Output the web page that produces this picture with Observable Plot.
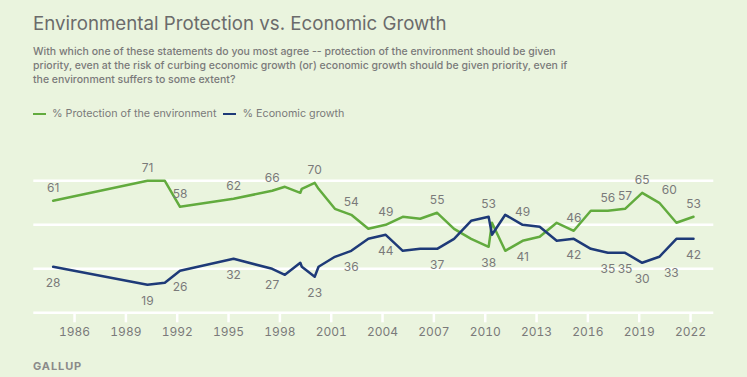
<!DOCTYPE html>
<html>
<head>
<meta charset="utf-8">
<script src="https://cdn.jsdelivr.net/npm/d3@7"></script>
<script src="https://cdn.jsdelivr.net/npm/@observablehq/plot@0.6"></script>
<style>
  html, body { margin: 0; padding: 0; }
  body { width: 747px; height: 377px; overflow: hidden; position: relative; background: #eaf4de; font-family: Inter, Roboto, "Noto Sans", sans-serif; }
  #title { position: absolute; left: 33px; top: 15px; font-size: 18.7px; line-height: 18.7px; color: #6b6b6b; font-weight: 400; white-space: nowrap; }
  #subtitle { position: absolute; left: 33px; top: 44.8px; font-size: 10.5px; line-height: 14.2px; color: #7a7a7a; font-weight: 500; white-space: nowrap; }
  #legend { position: absolute; left: 33px; top: 107px; font-size: 10.75px; line-height: 14px; color: #7a7a7a; display: flex; align-items: center; white-space: nowrap; }
  .sw { display: inline-block; width: 13px; height: 2.5px; margin-right: 6px; }
  .item { display: flex; align-items: center; margin-right: 7px; }
  #chart { position: absolute; left: 0; top: 130px; }
  #source { position: absolute; left: 33px; top: 359px; font-size: 11px; line-height: 14px; font-weight: 700; letter-spacing: 0.9px; color: #8a8a8a; }
</style>
</head>
<body>
<div id="title"></div>
<div id="subtitle"></div>
<div id="legend"></div>
<div id="chart"></div>
<div id="source"></div>
<script>
const titleText = "Environmental Protection vs. Economic Growth";
const subtitleLines = [
  "With which one of these statements do you most agree -- protection of the environment should be given",
  "priority, even at the risk of curbing economic growth (or) economic growth should be given priority, even if",
  "the environment suffers to some extent?"
];
const sourceText = "GALLUP";
const seriesNames = ["% Protection of the environment", "% Economic growth"];

const pollDates = ["1984-10-01","1990-04-06","1991-04-12","1992-03-01","1995-04-18","1997-07-20","1998-04-18","1999-03-13","1999-04-14","2000-01-14","2000-04-05","2001-03-20","2002-03-05","2003-03-04","2004-03-09","2005-03-08","2006-03-14","2007-03-12","2008-03-07","2009-03-06","2010-03-15","2010-05-25","2011-03-04","2012-03-09","2013-03-08","2014-03-07","2015-03-06","2016-03-04","2017-03-03","2018-03-05","2019-03-05","2020-03-05","2021-03-05","2022-03-05"];
const environmentValues = [61,71,71,58,62,66,68,65,67,70,67,57,54,47,49,53,52,55,47,42,38,50,36,41,43,50,46,56,56,57,65,60,50,53];
const economyValues = [28,19,20,26,32,27,24,30,28,23,28,33,36,42,44,36,37,37,42,51,53,44,54,49,48,41,42,37,35,35,30,33,42,42];

const labeledDates = ["1984-10-01","1990-04-06","1992-03-01","1995-04-18","1997-07-20","2000-01-14","2002-03-05","2004-03-09","2007-03-12","2010-03-15","2012-03-09","2015-03-06","2017-03-03","2018-03-05","2019-03-05","2020-03-05","2022-03-05"];
const shiftedLabelDates = ["2020-03-05"];

const tickYears = [1986,1989,1992,1995,1998,2001,2004,2007,2010,2013,2016,2019,2022];
const gridValues = [5, 27, 49, 71];

const green = "#62ab3e";
const blue = "#1e3a78";
const textGray = "#7a7a7a";

document.getElementById("title").textContent = titleText;
const sub = document.getElementById("subtitle");
subtitleLines.forEach(line => {
  const div = document.createElement("div");
  div.textContent = line;
  sub.appendChild(div);
});
document.getElementById("source").textContent = sourceText;
const legend = document.getElementById("legend");
[[seriesNames[0], green], [seriesNames[1], blue]].forEach(([name, color]) => {
  const it = document.createElement("span");
  it.className = "item";
  const sw = document.createElement("span");
  sw.className = "sw";
  sw.style.background = color;
  const tx = document.createElement("span");
  tx.textContent = name;
  it.appendChild(sw); it.appendChild(tx);
  legend.appendChild(it);
});

const rows = pollDates.map((d, i) => ({date: new Date(d + "T00:00:00"), key: d, env: environmentValues[i], econ: economyValues[i]}));

const labelRows = [];
rows.forEach(r => {
  if (!labeledDates.includes(r.key)) return;
  const shifted = shiftedLabelDates.includes(r.key);
  const envAbove = r.env >= r.econ;
  labelRows.push({date: r.date, value: r.env, above: envAbove, shifted});
  labelRows.push({date: r.date, value: r.econ, above: !envAbove, shifted});
});

const tickDates = tickYears.map(y => new Date(y, 0, 1));

const labelFont = {fontSize: 12, fill: textGray, text: d => String(d.value)};

const plot = Plot.plot({
  width: 747,
  height: 210,
  marginLeft: 33.3,
  marginRight: 33.7,
  marginTop: 50.3,
  marginBottom: 27.7,
  style: {background: "transparent", fontFamily: "Inter, Roboto, sans-serif", fontSize: "12px", color: textGray},
  x: {type: "time", domain: [new Date("1983-08-15T00:00:00"), new Date("2023-05-12T00:00:00")], label: null},
  y: {domain: [5, 71], axis: null},
  marks: [
    Plot.ruleY(gridValues, {stroke: "white", strokeWidth: 2.5}),
    Plot.axisX(tickDates, {tickSize: 10, stroke: "white", strokeWidth: 2.5, tickPadding: 5, tickFormat: d3.timeFormat("%Y"), fill: textGray, fontSize: 12, label: null}),
    Plot.lineY(rows, {x: "date", y: "env", stroke: green, strokeWidth: 2.5}),
    Plot.lineY(rows, {x: "date", y: "econ", stroke: blue, strokeWidth: 2.5}),
    Plot.text(labelRows.filter(d => d.above && !d.shifted), {x: "date", y: "value", dy: -12.5, ...labelFont}),
    Plot.text(labelRows.filter(d => !d.above && !d.shifted), {x: "date", y: "value", dy: 16.5, ...labelFont}),
    Plot.text(labelRows.filter(d => d.above && d.shifted), {x: "date", y: "value", dy: -12.5, dx: 10, ...labelFont}),
    Plot.text(labelRows.filter(d => !d.above && d.shifted), {x: "date", y: "value", dy: 16, dx: 12, ...labelFont})
  ]
});
document.getElementById("chart").appendChild(plot);
</script>
</body>
</html>
